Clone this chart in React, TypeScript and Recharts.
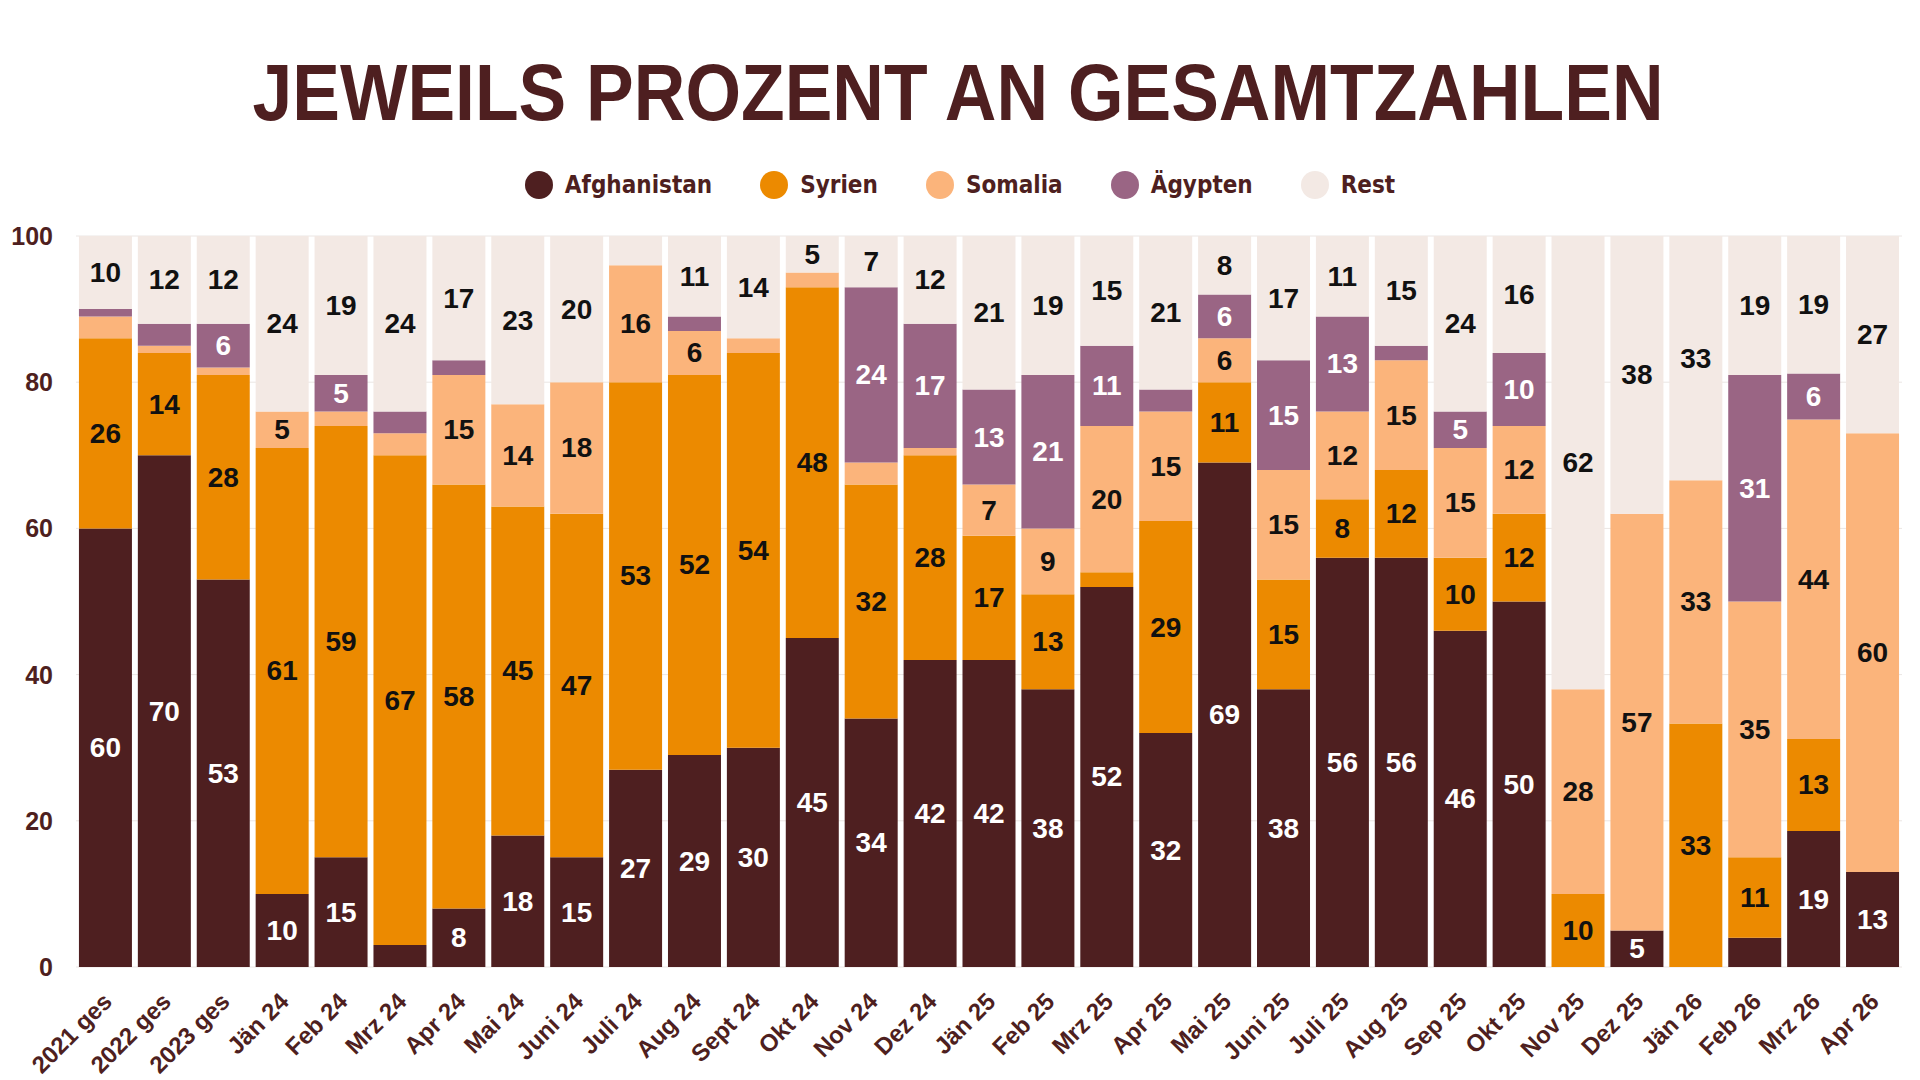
import { BarChart, Bar, XAxis, YAxis, CartesianGrid, LabelList } from 'recharts'

const months = [
  '2021 ges', '2022 ges', '2023 ges', 'Jän 24', 'Feb 24', 'Mrz 24', 'Apr 24', 'Mai 24', 'Juni 24',
  'Juli 24', 'Aug 24', 'Sept 24', 'Okt 24', 'Nov 24', 'Dez 24', 'Jän 25', 'Feb 25', 'Mrz 25',
  'Apr 25', 'Mai 25', 'Juni 25', 'Juli 25', 'Aug 25', 'Sep 25', 'Okt 25', 'Nov 25', 'Dez 25',
  'Jän 26', 'Feb 26', 'Mrz 26', 'Apr 26',
]

const afghanistan = [60, 70, 53, 10, 15, 3, 8, 18, 15, 27, 29, 30, 45, 34, 42, 42, 38, 52, 32, 69, 38, 56, 56, 46, 50, 0, 5, 0, 4, 18.6, 13]
const syrien = [26, 14, 28, 61, 59, 67, 58, 45, 47, 53, 52, 54, 48, 32, 28, 17, 13, 2, 29, 11, 15, 8, 12, 10, 12, 10, 0, 33.3, 11, 12.6, 0]
const somalia = [3, 1, 1, 5, 2, 3, 15, 14, 18, 16, 6, 2, 2, 3, 1, 7, 9, 20, 15, 6, 15, 12, 15, 15, 12, 28, 57, 33.3, 35, 43.7, 60]
const aegypten = [1, 3, 6, 0, 5, 3, 2, 0, 0, 0, 2, 0, 0, 24, 17, 13, 21, 11, 3, 6, 15, 13, 2, 5, 10, 0, 0, 0, 31, 6.3, 0]
const rest = [10, 12, 12, 24, 19, 24, 17, 23, 20, 4, 11, 14, 5, 7, 12, 21, 19, 15, 21, 8, 17, 11, 15, 24, 16, 62, 38, 33.4, 19, 18.8, 27]

const yTicks = [0, 20, 40, 60, 80, 100]

const series = [
  { key: 'afghanistan', name: 'Afghanistan', color: '#4e1f20', text: '#ffffff' },
  { key: 'syrien', name: 'Syrien', color: '#ec8a00', text: '#111111' },
  { key: 'somalia', name: 'Somalia', color: '#fbb47b', text: '#111111' },
  { key: 'aegypten', name: 'Ägypten', color: '#9a6584', text: '#ffffff' },
  { key: 'rest', name: 'Rest', color: '#f3e9e4', text: '#111111' },
]

const data = months.map((m, i) => ({
  month: m,
  afghanistan: afghanistan[i],
  syrien: syrien[i],
  somalia: somalia[i],
  aegypten: aegypten[i],
  rest: rest[i],
}))

const MAROON = '#4e1f20'
const NARROW = "'Liberation Sans Narrow', 'Liberation Sans', sans-serif"
const SANS = "'Liberation Sans', sans-serif"

function XTick({ x, y, payload }: any) {
  const tx = x + 8
  const ty = y + 28
  return (
    <text x={tx} y={ty} textAnchor="end" transform={`rotate(-45, ${tx}, ${ty})`}
      fill={MAROON} fontFamily={SANS} fontWeight="bold" fontSize={24}>
      {payload.value}
    </text>
  )
}

function YTick({ x, y, payload }: any) {
  return (
    <text x={x} y={y} textAnchor="end" dominantBaseline="central"
      fill={MAROON} fontFamily={SANS} fontWeight="bold" fontSize={25}>
      {payload.value}
    </text>
  )
}

function segmentLabel(color: string) {
  return (props: any) => {
    const { x, y, width, height, value } = props
    const v = Math.round(Number(value))
    if (!v || v < 5) return null
    return (
      <text x={x + width / 2} y={y + height / 2} textAnchor="middle" dominantBaseline="central"
        fill={color} fontFamily={NARROW} fontWeight="bold" fontSize={28}>
        {v}
      </text>
    )
  }
}

export default function App() {
  return (
    <div style={{ position: 'absolute', left: 0, top: 0, width: 1920, height: 1080, background: '#fff' }}>
      <svg width={1920} height={140} style={{ position: 'absolute', left: 0, top: 0 }}>
        <text x={958} y={120} textAnchor="middle" textLength={1411} lengthAdjust="spacingAndGlyphs"
          fill={MAROON} fontFamily={NARROW} fontWeight="bold" fontSize={79}>
          JEWEILS PROZENT AN GESAMTZAHLEN
        </text>
      </svg>
      <div style={{
        position: 'absolute', left: 0, top: 168, width: 1920, height: 34,
        display: 'flex', justifyContent: 'center', alignItems: 'center', gap: 48,
      }}>
        {series.map((s) => (
          <div key={s.key} style={{ display: 'flex', alignItems: 'center' }}>
            <span style={{ width: 28, height: 28, borderRadius: 14, background: s.color, display: 'inline-block', marginRight: 12 }} />
            <span style={{ color: MAROON, fontFamily: "'DejaVu Sans Condensed', 'DejaVu Sans', sans-serif", fontStretch: 'condensed', fontWeight: 'bold', fontSize: 24 }}>
              {s.name}
            </span>
          </div>
        ))}
      </div>
      <div style={{ position: 'absolute', left: 0, top: 0 }}>
        <BarChart width={1920} height={1080} data={data}
          margin={{ top: 236, right: 18, bottom: 0, left: 0 }} barCategoryGap="5%">
          <CartesianGrid vertical={false} stroke="#ebe6e4" />
          <XAxis dataKey="month" height={113} interval={0} axisLine={false} tickLine={false} tick={<XTick />} />
          <YAxis width={76} domain={[0, 100]} ticks={yTicks} axisLine={false} tickLine={false}
            tickSize={0} tickMargin={23} tick={<YTick />} />
          {series.map((s) => (
            <Bar key={s.key} dataKey={s.key} name={s.name} stackId="a" fill={s.color} isAnimationActive={false}>
              <LabelList dataKey={s.key} content={segmentLabel(s.text)} />
            </Bar>
          ))}
        </BarChart>
      </div>
    </div>
  )
}
